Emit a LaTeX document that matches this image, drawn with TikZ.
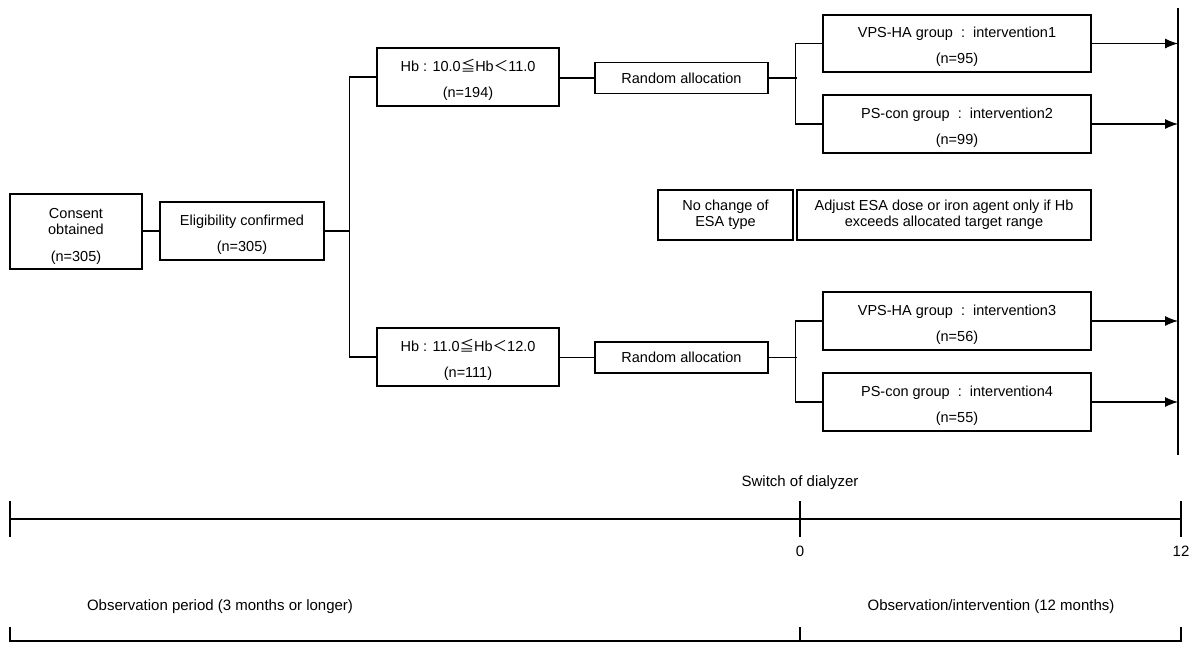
\documentclass[tikz,border=0pt]{standalone}
\usepackage{fontspec}
\setmainfont{Liberation Sans}
\newfontfamily\cjk{Noto Sans CJK JP}
\usetikzlibrary{arrows.meta}
\newcommand\mystrut{\rule{0pt}{17pt}}
\begin{document}
\begin{tikzpicture}[x=1pt,y=-1pt,
  every node/.style={font=\fontsize{14.5}{16}\selectfont},
  box/.style={draw, line width=1.1pt, align=center, inner sep=0pt},
  ln/.style={line width=1.1pt},
  arr/.style={line width=1.1pt, -{Latex[length=13pt,width=10pt]}},
  lbl/.style={font=\fontsize{15}{17}\selectfont, inner sep=0pt}]
\useasboundingbox (0,0) rectangle (1191,645);
% boxes
\node[box, minimum width=132, minimum height=75] (consent) at (76,231.5) {\rule{0pt}{19pt}Consent\\obtained\\[11pt](n=305)};
\node[box, minimum width=164, minimum height=58] (elig) at (242,231) {\mystrut Eligibility confirmed\\[10pt](n=305)};
\node[box, minimum width=182, minimum height=58] (hb1) at (468,77) {\mystrut Hb : 10.0{\cjk ≦}Hb{\cjk ＜}11.0\\[10pt](n=194)};
\node[box, minimum width=182, minimum height=58] (hb2) at (468,357) {\mystrut Hb : 11.0{\cjk ≦}Hb{\cjk ＜}12.0\\[10pt](n=111)};
\node[box, minimum width=173, minimum height=31] (ra1) at (681.5,78) {Random allocation};
\node[box, minimum width=173, minimum height=31] (ra2) at (681.5,357.5) {Random allocation};
\node[box, minimum width=268, minimum height=57] (v1) at (957,43.5) {\mystrut VPS-HA group\ \ :\ \ intervention1\\[10pt](n=95)};
\node[box, minimum width=268, minimum height=58] (p2) at (957,124) {\mystrut PS-con group\ \ :\ \ intervention2\\[10pt](n=99)};
\node[box, minimum width=268, minimum height=58] (v3) at (957,321) {\mystrut VPS-HA group\ \ :\ \ intervention3\\[10pt](n=56)};
\node[box, minimum width=268, minimum height=58] (p4) at (957,402) {\mystrut PS-con group\ \ :\ \ intervention4\\[10pt](n=55)};
\node[box, minimum width=135, minimum height=50] (nochange) at (725.5,215) {No change of\\ESA type};
\node[box, minimum width=294, minimum height=50] (adjust) at (944,215) {Adjust ESA dose or iron agent only if Hb\\exceeds allocated target range};
% end line
\coordinate (endtop) at (1178,8);
\coordinate (endbot) at (1178,455);
\draw[ln] (endtop) -- (endbot);
% connectors
\coordinate (trunk) at (350,231);
\draw[ln] (consent.east |- elig.west) -- (elig.west);
\draw[ln] (elig.east) -- (trunk);
\draw[ln] (hb1.west) -- ++(-27,0) |- (hb2.west);
\draw[ln] (hb1.east |- ra1.west) -- (ra1.west);
\draw[ln] (hb2.east |- ra2.west) -- (ra2.west);
\draw[ln] (ra1.east) -- ++(28,0);
\draw[ln] (ra2.east) -- ++(28,0);
\draw[ln] (v1.west) -- ++(-27,0) |- (p2.west);
\draw[ln] (v3.west) -- ++(-27,0) |- (p4.west);
\draw[arr] (v1.east) -- (v1.east -| endtop);
\draw[arr] (p2.east) -- (p2.east -| endtop);
\draw[arr] (v3.east) -- (v3.east -| endtop);
\draw[arr] (p4.east) -- (p4.east -| endtop);
% timeline
\coordinate (t0) at (10,519);
\coordinate (t1) at (800,519);
\coordinate (t2) at (1181,519);
\draw[ln] (t0) -- (t2);
\draw[ln] (10,501) -- (10,537);
\draw[ln] (800,501) -- (800,537);
\draw[ln] (1181,501) -- (1181,537);
\node[lbl] (switch) at (800,483) {Switch of dialyzer};
\node[lbl] (zero) at (800,551) {0};
\node[lbl] (twelve) at (1181,551) {12};
% bottom periods
\coordinate (b0) at (10,641);
\coordinate (b1) at (800,641);
\coordinate (b2) at (1181,641);
\draw[ln] (10,627) -- (b0) -- (b2) -- (1181,627);
\draw[ln] (800,627) -- (b1);
\node[lbl] (obs1) at (220,607) {Observation period (3 months or longer)};
\node[lbl] (obs2) at (991,607) {Observation/intervention (12 months)};
\end{tikzpicture}
\end{document}
